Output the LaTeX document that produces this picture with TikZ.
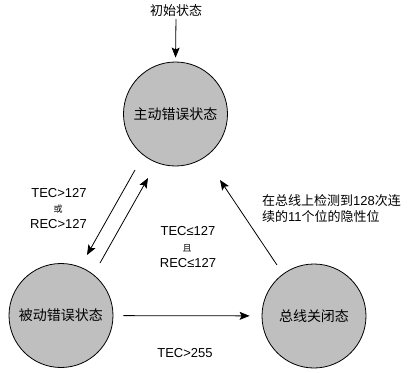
\documentclass[tikz,border=0pt]{standalone}
\usepackage{fontspec}
\setmainfont{Liberation Sans}
\newfontfamily\cjk{Noto Sans CJK SC}
\usetikzlibrary{arrows.meta}
\tikzset{
  state/.style  = {circle, draw, line width=0.8pt, fill=black!25,
                   minimum size=104pt, inner sep=0pt,
                   font=\fontsize{14}{16}\selectfont\cjk},   % the three states
  cond/.style   = {inner sep=0pt, font=\fontsize{13}{16}\selectfont},
  joiner/.style = {inner sep=0pt, font=\fontsize{9}{10}\selectfont\cjk},
  arrow/.style  = {-{Stealth[length=10pt, width=8pt, inset=2pt]}, line width=0.8pt}
}

\begin{document}
\begin{tikzpicture}[x=1pt, y=-1pt]
  \useasboundingbox (0,0) rectangle (408,373);
  % states
  \node[state] (active)  at (175.5,114) {主动错误状态};
  \node[state] (passive) at (61,315.5)  {被动错误状态};
  \node[state] (busoff)  at (314,316)   {总线关闭态};
  % initial
  \node[cond, font=\fontsize{13}{16}\selectfont\cjk] (init) at (176,11) {初始状态};
  \draw[arrow, shorten <=2pt, shorten >=4pt] (init.south) -- (active.north);
  % arrow ends
  \coordinate (a1) at (135,170);
  \coordinate (p1) at (87,255);
  \coordinate (p2) at (100,263);
  \coordinate (a2) at (148,178);
  \coordinate (b1) at (277,265);
  \coordinate (a3) at (220,180);
  \draw[arrow] (a1) -- (p1);
  \draw[arrow] (p2) -- (a2);
  \draw[arrow] (b1) -- (a3);
  \draw[arrow, shorten <=10pt, shorten >=12pt] (passive) -- (busoff);
  % conditions
  \node[cond] (tec1) at (59,193) {TEC>127};
  \node[joiner] (or) at (58,209) {或};
  \node[cond] (rec1) at (58.5,224) {REC>127};
  \node[cond] (tec2) at (188,231) {TEC≤127};
  \node[joiner] (and) at (187,248) {且};
  \node[cond] (rec2) at (188,263) {REC≤127};
  \node[cond, anchor=west, align=left] (recov) at (262,209)
    {{\cjk 在总线上检测到}128{\cjk 次连}\\{\cjk 续的}11{\cjk 个位的隐性位}};
  \node[cond] (tec3) at (185,353) {TEC>255};
\end{tikzpicture}
\end{document}
